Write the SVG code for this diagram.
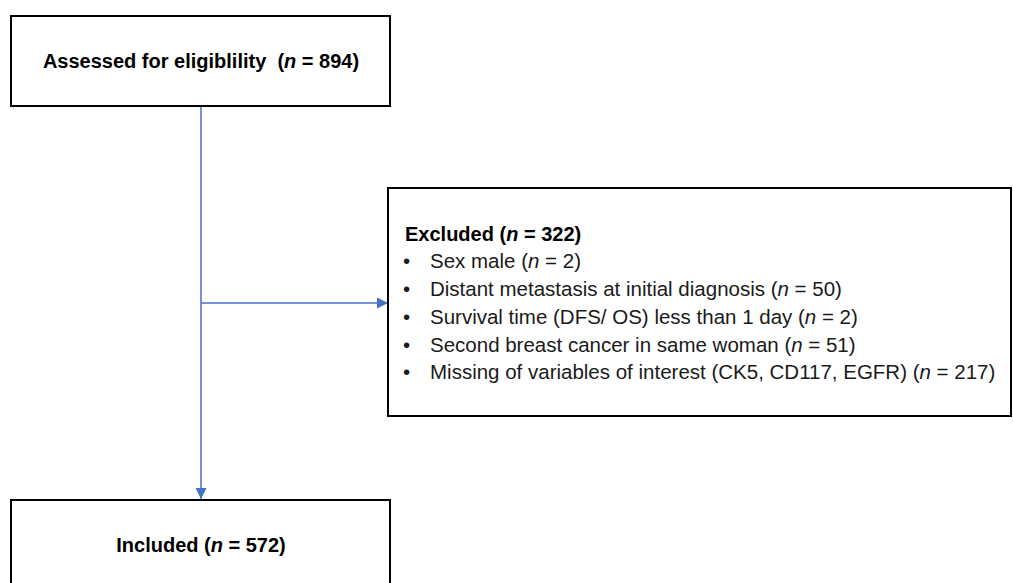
<svg xmlns="http://www.w3.org/2000/svg" width="1013" height="583" viewBox="0 0 1013 583">
<defs>
<marker id="ah" viewBox="0 0 10 10" refX="10" refY="5" markerWidth="11" markerHeight="11" markerUnits="userSpaceOnUse" orient="auto">
<path d="M0,0 L10,5 L0,10 z" fill="#4472C4"/>
</marker>
<style>
.box{fill:#fff;stroke:#000;stroke-width:2}
.t{font-family:"Liberation Sans",Arial,sans-serif;font-size:20.5px;fill:#1a1a1a}
.b{font-weight:bold;font-size:20px;fill:#000}
.c{stroke:#4472C4;stroke-width:1.5;fill:none}
</style>
</defs>
<rect width="1013" height="583" fill="#fff"/>
<g id="connectors">
<line class="c" x1="201" y1="106" x2="201" y2="499" marker-end="url(#ah)"/>
<line class="c" x1="201" y1="303" x2="388" y2="303" marker-end="url(#ah)"/>
</g>
<g id="assessed">
<rect class="box" x="11" y="16" width="379" height="90"/>
<text class="t b" x="201" y="68" text-anchor="middle" xml:space="preserve">Assessed for eligiblility  (<tspan font-style="italic">n</tspan> = 894)</text>
</g>
<g id="excluded">
<rect class="box" x="388" y="188" width="623" height="228"/>
<text class="t b" x="405" y="241">Excluded (<tspan font-style="italic">n</tspan> = 322)</text>
<g class="t">
<text x="403" y="268">•</text><text x="430" y="268">Sex male (<tspan font-style="italic">n</tspan> = 2)</text>
<text x="403" y="296">•</text><text x="430" y="296">Distant metastasis at initial diagnosis (<tspan font-style="italic">n</tspan> = 50)</text>
<text x="403" y="324">•</text><text x="430" y="324">Survival time (DFS/ OS) less than 1 day (<tspan font-style="italic">n</tspan> = 2)</text>
<text x="403" y="352">•</text><text x="430" y="352">Second breast cancer in same woman (<tspan font-style="italic">n</tspan> = 51)</text>
<text x="403" y="379">•</text><text x="430" y="379">Missing of variables of interest (CK5, CD117, EGFR) (<tspan font-style="italic">n</tspan> = 217)</text>
</g>
</g>
<g id="included">
<rect class="box" x="11" y="500" width="379" height="90"/>
<text class="t b" x="201" y="552" text-anchor="middle">Included (<tspan font-style="italic">n</tspan> = 572)</text>
</g>
</svg>
